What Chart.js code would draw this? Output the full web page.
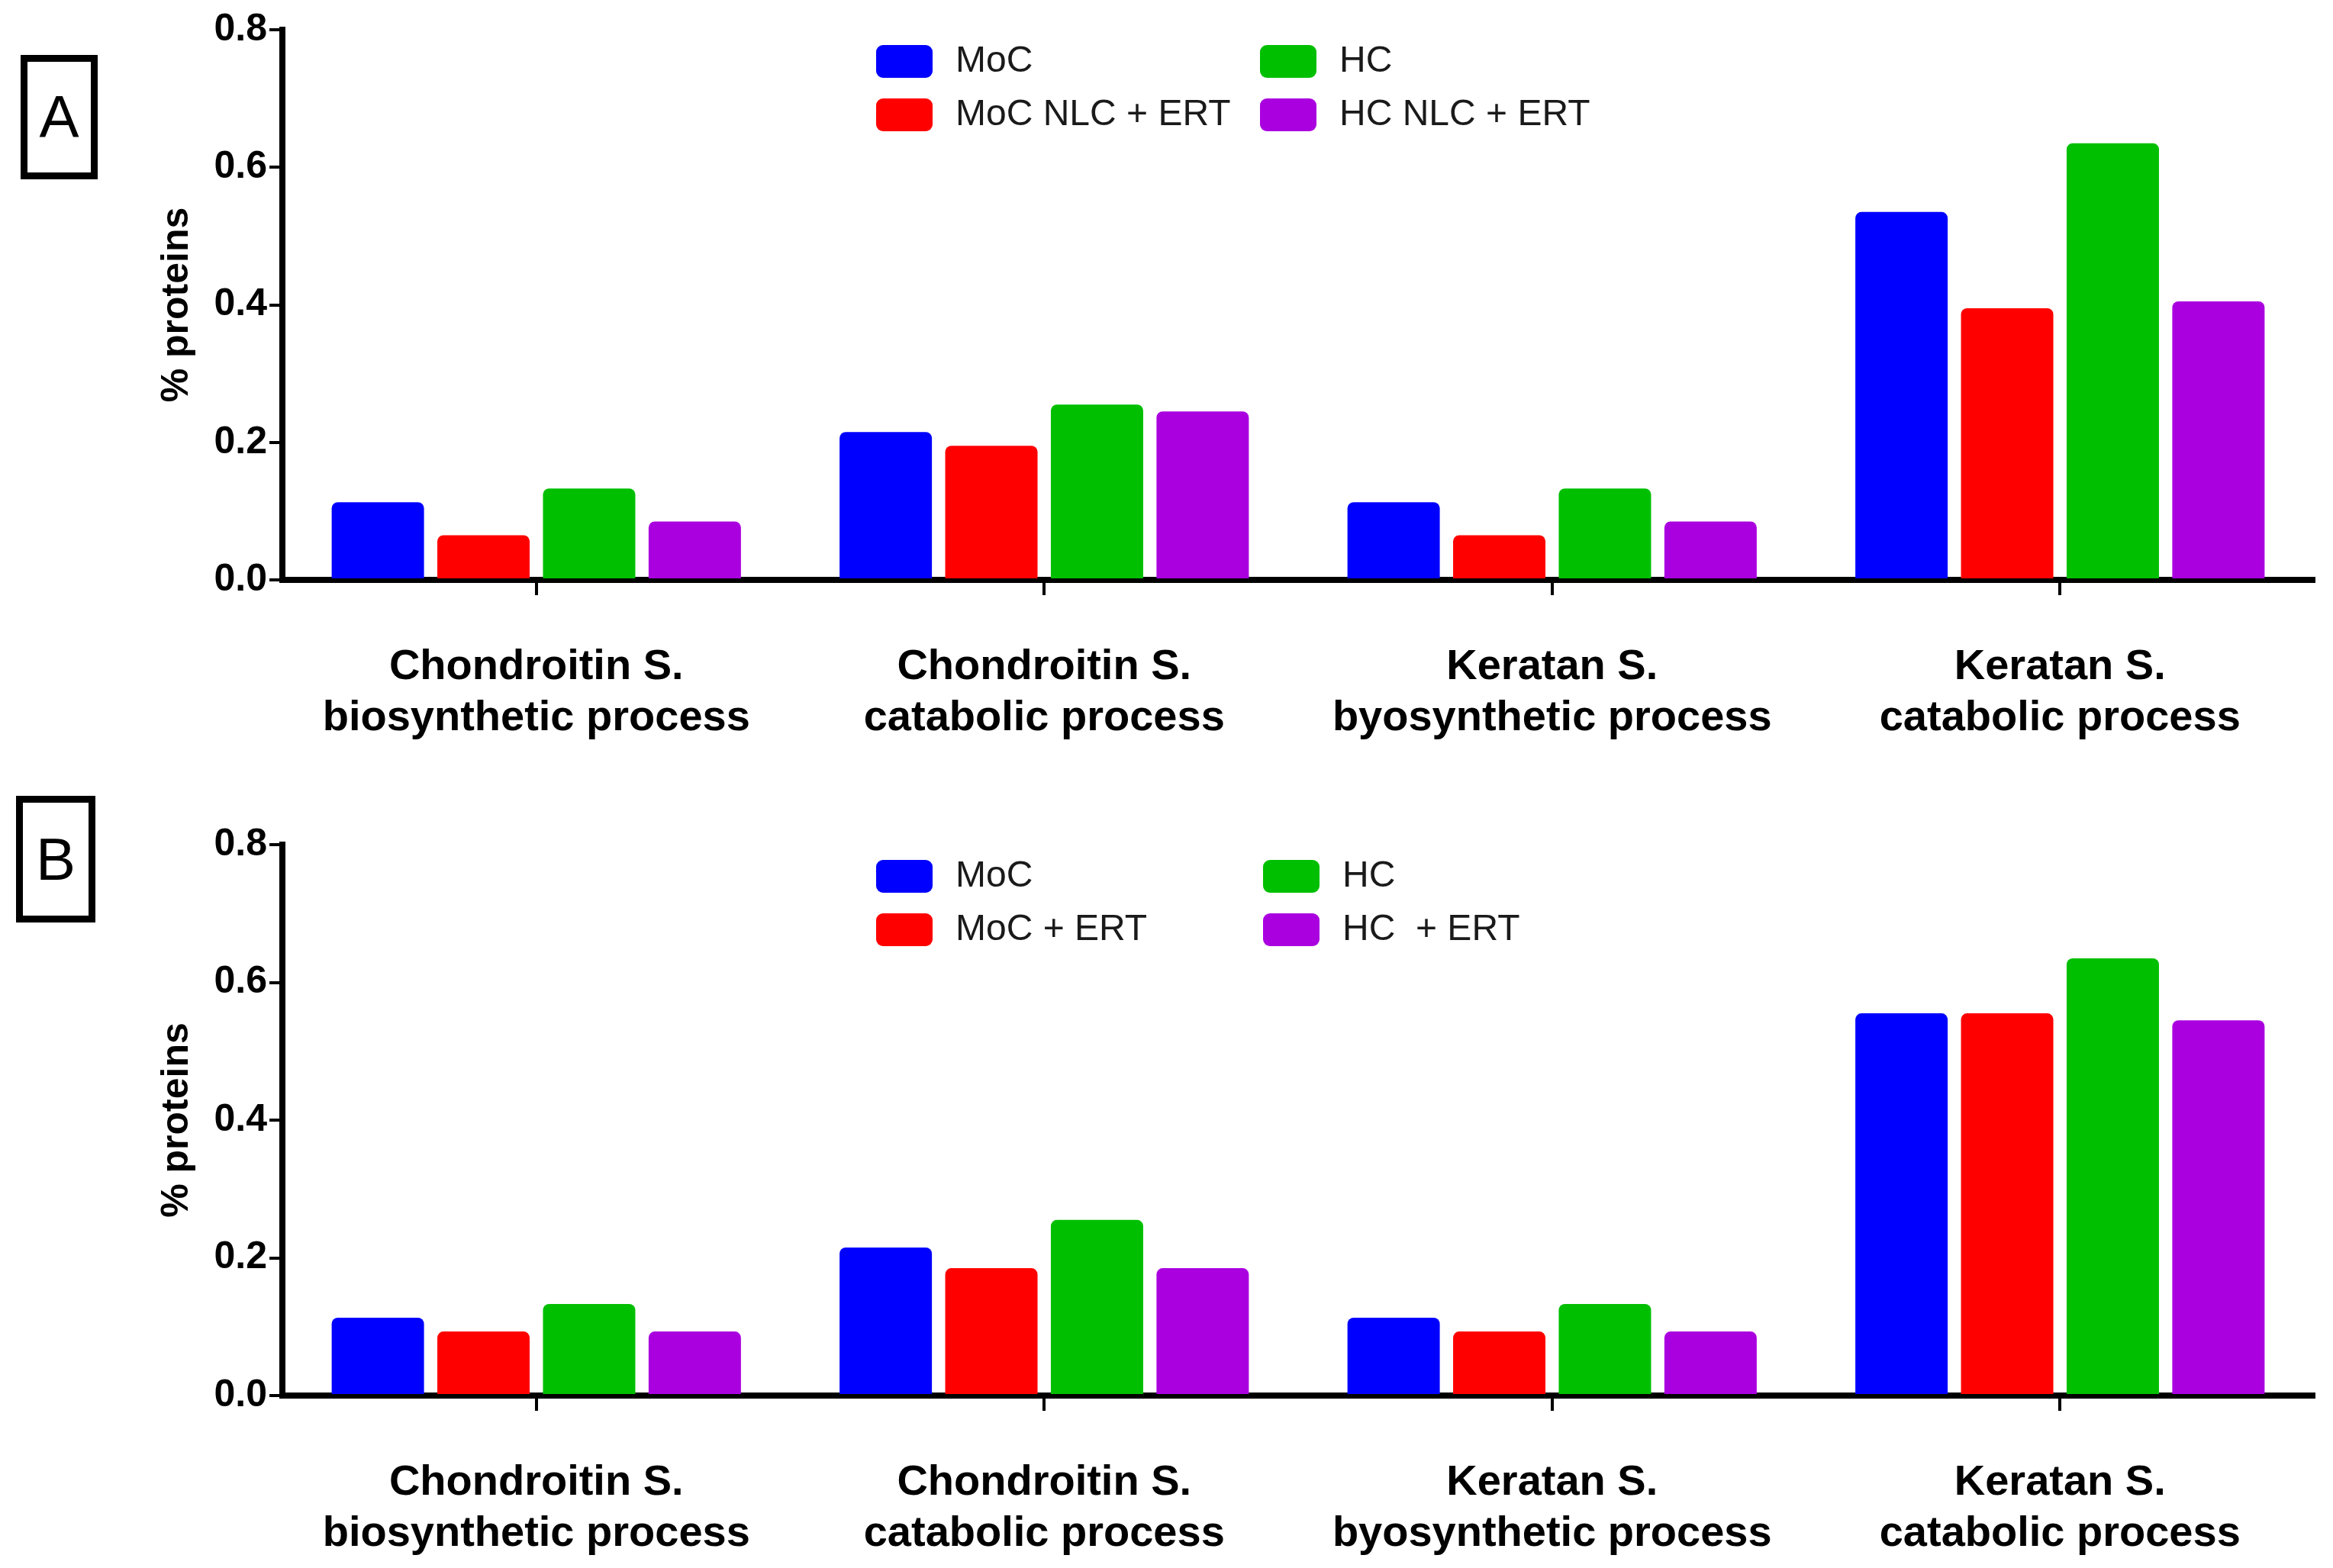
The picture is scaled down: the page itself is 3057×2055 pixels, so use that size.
<!DOCTYPE html>
<html>
<head>
<meta charset="utf-8">
<script src="https://cdn.jsdelivr.net/npm/chart.js@4.4.0/dist/chart.umd.min.js"></script>
<style>
  html, body { margin: 0; padding: 0; background: #fff; overflow: hidden; }
  body { width: 3057px; height: 2055px; position: relative; }
  canvas { position: absolute; left: 0; }
  .tag {
    position: absolute; box-sizing: border-box; border: 9px solid #000;
    font-family: "Liberation Sans", Arial, sans-serif; font-size: 78px;
    display: flex; align-items: center; justify-content: center; color: #000;
  }
</style>
</head>
<body>
<div class="tag" style="left:27px;top:72px;width:101px;height:163px;">A</div>
<div class="tag" style="left:21px;top:1043px;width:104px;height:166px;">B</div>
<canvas id="chartA" width="3057" height="1030" style="top:0"></canvas>
<canvas id="chartB" width="3057" height="1025" style="top:1030px"></canvas>
<script>
// categories
const categories = [
  ['Chondroitin S.', 'biosynthetic process'],
  ['Chondroitin S.', 'catabolic process'],
  ['Keratan S.', 'byosynthetic process'],
  ['Keratan S.', 'catabolic process']
];
const yTicks = [0, 0.2, 0.4, 0.6, 0.8];
const colors = ['#0000ff', '#ff0000', '#00bf00', '#aa00e0'];

// panel A
const labelsA = ['MoC', 'MoC NLC + ERT', 'HC', 'HC NLC + ERT'];
const mocA    = [0.113, 0.215, 0.113, 0.535];
const mocNlcA = [0.065, 0.195, 0.065, 0.395];
const hcA     = [0.133, 0.255, 0.133, 0.635];
const hcNlcA  = [0.085, 0.245, 0.085, 0.405];

// panel B
const labelsB = ['MoC', 'MoC + ERT', 'HC', 'HC  + ERT'];
const mocB    = [0.113, 0.215, 0.113, 0.555];
const mocErtB = [0.093, 0.185, 0.093, 0.555];
const hcB     = [0.133, 0.255, 0.133, 0.635];
const hcErtB  = [0.093, 0.185, 0.093, 0.545];

const FONT = '"Liberation Sans", Arial, sans-serif';

// legend in 2 columns: MoC / HC on first row, treated ones below
const boxLegend = {
  id: 'boxLegend',
  afterDraw(chart, args, opts) {
    const ctx = chart.ctx;
    const top = chart.chartArea.top;
    const ds = chart.data.datasets;
    const order = [[0, 0], [2, 1], [1, 0], [3, 1]];
    ctx.save();
    ctx.font = '48px ' + FONT;
    ctx.textBaseline = 'middle';
    order.forEach(([i, col], k) => {
      const row = k < 2 ? 0 : 1;
      const x = opts.cols[col];
      const cy = top + opts.rows[row];
      ctx.fillStyle = ds[i].backgroundColor;
      ctx.beginPath();
      ctx.roundRect(x, cy - 21, 74, 43, 9);
      ctx.fill();
      ctx.fillStyle = '#1a1a1a';
      ctx.fillText(ds[i].label, x + 104, cy + 1);
    });
    ctx.restore();
  }
};

function makeChart(id, names, series, topPad, xHeight, legendCols) {
  return new Chart(document.getElementById(id), {
    type: 'bar',
    data: {
      labels: categories,
      datasets: series.map((s, i) => ({
        label: names[i],
        data: s,
        backgroundColor: colors[i],
        borderRadius: { topLeft: 8, topRight: 8 },
        borderSkipped: 'start',
        categoryPercentage: 0.832,
        barPercentage: 0.874
      }))
    },
    options: {
      responsive: false,
      devicePixelRatio: 1,
      animation: false,
      layout: { padding: { top: topPad, right: 25, bottom: 0, left: 186 } },
      plugins: {
        legend: { display: false },
        tooltip: { enabled: false },
        boxLegend: { cols: legendCols, rows: [41, 111] }
      },
      scales: {
        x: {
          offset: true,
          afterFit: s => { s.height = xHeight; },
          grid: { display: true, drawOnChartArea: false, offset: false, tickLength: 20, tickWidth: 4, tickColor: '#000', lineWidth: 4 },
          border: { display: true, color: '#000', width: 8 },
          ticks: { color: '#000', padding: 62, font: { family: FONT, size: 56, weight: 'bold', lineHeight: 1.18 }, maxRotation: 0, autoSkip: false }
        },
        y: {
          min: 0, max: 0.8,
          afterFit: s => { s.width = 184; },
          afterBuildTicks: s => { s.ticks = yTicks.map(v => ({ value: v })); },
          grid: { display: true, drawOnChartArea: false, tickLength: 17, tickWidth: 4, tickColor: '#000', lineWidth: 4 },
          border: { display: true, color: '#000', width: 8 },
          ticks: { color: '#000', padding: 3, font: { family: FONT, size: 50, weight: 'bold' }, callback: v => Number(v).toFixed(1) },
          title: { display: true, text: '% proteins', color: '#000', padding: { top: 16, bottom: 0 }, font: { family: FONT, size: 50, weight: 'bold' } }
        }
      }
    },
    plugins: [boxLegend]
  });
}

makeChart('chartA', labelsA, [mocA, mocNlcA, hcA, hcNlcA], 39, 270, [1148, 1651]);
makeChart('chartB', labelsB, [mocB, mocErtB, hcB, hcErtB], 77, 226, [1148, 1655]);
</script>
</body>
</html>
